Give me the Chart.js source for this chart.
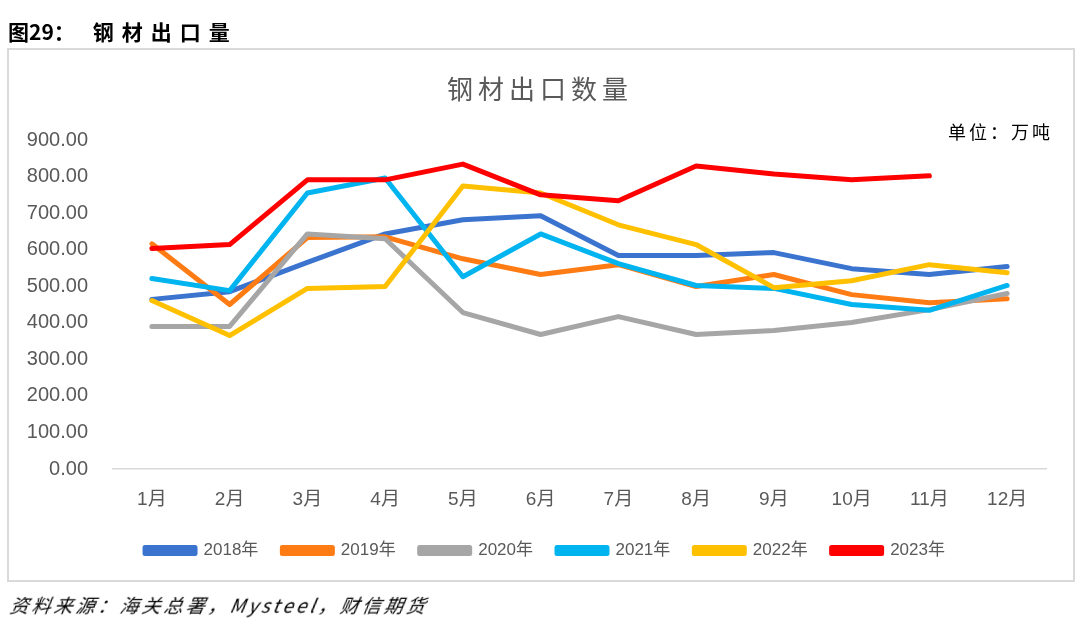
<!DOCTYPE html>
<html>
<head>
<meta charset="utf-8">
<script src="https://cdn.jsdelivr.net/npm/chart.js@4.4.1/dist/chart.umd.min.js"></script>
<style>
  html, body { margin: 0; padding: 0; background: #fff; }
  #wrap { position: relative; width: 1080px; height: 621px; overflow: hidden; }
  #chart { position: absolute; left: 0; top: 0; }
  .hdr { position: absolute; left: 8px; top: 17px; font-family: 'Noto Sans CJK SC', sans-serif; font-weight: 700; font-size: 21px; color: #000; line-height: 28px; white-space: nowrap; }
  .hdr .t { letter-spacing: 8px; margin-left: 18px; }
  .box { position: absolute; left: 7px; top: 48px; width: 1064px; height: 530px; border: 2px solid #d9d9d9; }
  .ttl { position: absolute; left: 0; width: 1080px; top: 70px; text-align: center; font-family: 'Noto Sans CJK SC', sans-serif; font-size: 26px; letter-spacing: 5px; color: #595959; line-height: 36px; }
  .unit { position: absolute; left: 948px; top: 119px; font-family: 'Noto Sans CJK SC', sans-serif; font-size: 18px; letter-spacing: 3px; color: #000; line-height: 24px; white-space: nowrap; }
  .src { position: absolute; left: 8px; top: 592px; font-family: 'Noto Sans CJK SC', sans-serif; font-style: italic; font-size: 19px; letter-spacing: 3px; color: #000; line-height: 26px; white-space: nowrap; transform: skewX(-10deg); transform-origin: left bottom; }
</style>
</head>
<body>
<div id="wrap">
  <div class="box"></div>
  <canvas id="chart" width="1080" height="621"></canvas>
  <div class="hdr">图29：<span class="t">钢材出口量</span></div>
  <div class="ttl">钢材出口数量</div>
  <div class="unit">单位：万吨</div>
  <div class="src">资料来源：海关总署，Mysteel，财信期货</div>
</div>
<script>
const months = ['1月','2月','3月','4月','5月','6月','7月','8月','9月','10月','11月','12月'];
const seriesNames = ['2018年','2019年','2020年','2021年','2022年','2023年'];
const y2018 = [464, 485, 565, 643, 682, 693, 584, 584, 592, 548, 532, 554];
const y2019 = [616, 450, 633, 635, 575, 532, 559, 499, 532, 477, 455, 466];
const y2020 = [390, 390, 643, 630, 428, 368, 417, 368, 379, 401, 436, 480];
const y2021 = [521, 488, 755, 796, 526, 643, 562, 502, 494, 450, 434, 502];
const y2022 = [461, 365, 494, 499, 774, 755, 668, 614, 496, 515, 559, 537];
const y2023 = [603, 614, 791, 791, 834, 750, 734, 829, 807, 791, 802, null];
const yTicks = [0, 100, 200, 300, 400, 500, 600, 700, 800, 900];
const colors = ['#3B74CF', '#FF7C14', '#A6A6A6', '#00B4F0', '#FFC000', '#FF0000'];

const allData = [y2018, y2019, y2020, y2021, y2022, y2023];
const datasets = allData.map((d, i) => ({
  label: seriesNames[i],
  data: d,
  borderColor: colors[i],
  backgroundColor: colors[i],
  borderWidth: 5,
  pointRadius: 0,
  pointHoverRadius: 0,
  tension: 0,
  fill: false,
  borderCapStyle: 'round',
  borderJoinStyle: 'round',
  spanGaps: false,
  order: allData.length - i
}));

const legendShift = {
  id: 'legendShift',
  afterLayout(chart) {
    const l = chart.legend;
    if (l) { l.left += 17; l.right += 17; }
  }
};

new Chart(document.getElementById('chart'), {
  type: 'line',
  data: { labels: months, datasets },
  plugins: [legendShift],
  options: {
    responsive: false,
    animation: false,
    devicePixelRatio: 1,
    layout: { padding: { top: 140, left: 10, right: 34, bottom: 52 } },
    plugins: {
      title: { display: false },
      tooltip: { enabled: false },
      legend: {
        position: 'bottom',
        align: 'center',
        labels: {
          boxWidth: 50,
          boxHeight: 6,
          padding: 24,
          color: '#595959',
          font: { family: "'Liberation Sans', 'Noto Sans CJK SC', sans-serif", size: 17 },
          sort: (a, b) => a.datasetIndex - b.datasetIndex
        }
      }
    },
    scales: {
      x: {
        type: 'category',
        offset: true,
        grid: { display: false, drawTicks: false },
        border: { display: true, color: '#d9d9d9', width: 1.5 },
        ticks: { color: '#595959', padding: 19, maxRotation: 0, autoSkip: false,
          font: { family: "'Liberation Sans', 'Noto Sans CJK SC', sans-serif", size: 19 } },
        afterFit: (s) => { s.height = 49; }
      },
      y: {
        min: 0, max: 900,
        afterBuildTicks: (s) => { s.ticks = yTicks.map(v => ({ value: v })); },
        grid: { display: false, drawTicks: false },
        border: { display: false },
        ticks: { color: '#595959', padding: 25,
          font: { family: "'Liberation Sans', sans-serif", size: 20 },
          callback: (v) => Number(v).toFixed(2) },
        afterFit: (s) => { s.width = 103; }
      }
    }
  }
});
</script>
</body>
</html>
